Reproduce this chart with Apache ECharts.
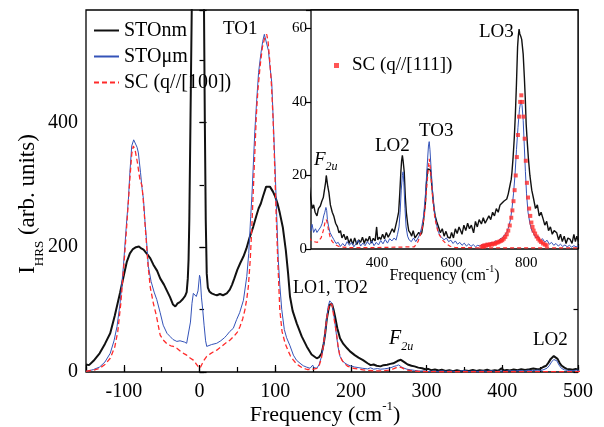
<!DOCTYPE html>
<html>
<head>
<meta charset="utf-8">
<script src="https://cdn.jsdelivr.net/npm/echarts@6/dist/echarts.min.js"></script>
<style>
  html, body { margin: 0; padding: 0; background: #fff; }
  #chart { width: 604px; height: 427px; }
</style>
</head>
<body>
<div id="chart"></div>
<script>
// Hyper-Rayleigh scattering spectra: [frequency (cm-1), intensity (arb. units)]
const stoNm = [
  [-150,12],[-146,11],[-140,18],[-132,30],[-125,45],[-118,62],[-112,90],[-105,127],[-100,155],[-96,177],
  [-92,190],[-88,197],[-84,200],[-80,201],[-77,198],[-74,196],[-70,190],[-65,182],[-61,172],[-56,162],
  [-52,150],[-47,140],[-43,130],[-39,120],[-35,108],[-32,105],[-29,110],[-26,112],[-22,117],[-19,122],
  [-17,128],[-15.5,150],[-14.5,180],[-13.5,244],[-12,400],[-10.3,580],[-8,800],[0,1200],[4,800],[5.9,580],
  [7,400],[8.2,244],[9.5,158],[11,135],[13,129],[16,126],[20,124],[23,123],[27,125],[31,123],
  [36,126],[40,132],[43,140],[46,150],[50,164],[54,175],[58,185],[62,198],[66,215],[71,233],
  [75,250],[78,262],[81,270],[84,282],[88,297],[90,300],[93,297],[97,289],[100,281],[103,270],
  [106,255],[110,232],[114,195],[117,158],[119.5,121],[123,98],[128.4,78],[135,57],[141.6,41],[148,28],
  [154.8,22],[158,24],[161.4,30],[164,45],[166,62],[168,84],[170,98],[172,108],[173.5,111],[175,109],
  [177,100],[179,89],[182,70],[185.6,54],[190,45],[195,38],[198.8,33],[205,27],[210,23],[216,19],
  [222,14],[226,11],[230,12],[234,10],[239,9],[243,11],[248,11.7],[252,13],[256,14],[259,16],
  [262,18],[264,20],[266,19.5],[268,17],[271,15.4],[275,12],[280,10],[284,9],[289,7],[294,6],
  [298,4.4],[302,5],[306,3],[311,4],[316,2.5],[320,3.5],[325,1.5],[330,2.8],[335,1.2],[340,3],
  [346,1.2],[351,2.5],[356,1.8],[361,3.2],[366,1.5],[370,2.8],[375,2.1],[380,3.5],[385,1.6],[390,2.9],
  [395,2.2],[399,6],[402,2.5],[406,3.2],[410,2.6],[415,4],[420,2.8],[425,4.5],[430,3.2],[436,4.4],
  [441,5.5],[446,4.5],[450,5],[454,8],[458,10],[461,15],[464,21],[466,24],[468,25.5],[470,24],
  [473,21],[476,14],[478.6,10],[482,7],[485,5],[489,4.4],[493,3.5],[497,5],[502,3],[507,3],
  [512,4.5],[516,3.8],[520,4.4],[524,7],[527,10],[529.5,12],[532,17],[535.7,21.8],[538,22],[540,22.3],
  [543,21.5],[545,20],[547,17.2],[550,14],[553,11],[556,9],[560,7.5],[565,6],[570,4.4],[575,5.5],
  [580,3.5],[585,4.8],[590,3.2],[596,3],[600,4.5],[605,3],[610,5.5],[615,4.2],[620,6],[623,5.3],
  [628,4],[633,6.5],[638,5],[643,7],[648,5.5],[653,6.5],[659,4.4],[664,7.5],[669,6],[674,8],
  [680,6.8],[685,8.5],[690,7],[695,7.2],[700,9],[705,8],[710,10],[715,9],[720,11],[725,10],
  [730,12],[735,11.5],[740,13],[744,13],[748,13.6],[752,15],[756,17],[760,19],[762,21],[765,25],
  [768,30],[771,36.5],[774,45],[777,55],[779,58],[781,59.8],[783,58.5],[786,57.7],[788,57],[790,57.2],
  [792,53],[795,47],[797.6,41],[800,34],[803,29],[806,24.6],[810,20],[815,16],[820,13.6],[825,11],
  [830,12],[835,9],[840,10],[846,8],[850,6.5],[855,7.5],[860,5],[865,6],[870,4],[875,5],
  [882,4.4],[887,2.5],[892,4],[897,2],[902,3.5],[907,1.5],[912,3],[918,2.6],[923,1.5],[928,4],
  [932,2],[936,3.5],[940,2]
];

const stoUm = [
  [-150,1],[-146,2],[-140,4],[-132,8],[-125,16],[-118,30],[-113,50],[-109,73],[-105,110],[-100.6,169],
  [-97,230],[-94,276],[-92,320],[-89.6,362],[-87,372],[-85,370],[-82.5,360],[-80.8,351],[-78,320],[-76,295],
  [-74,276],[-72,240],[-70,210],[-67.6,169],[-64,145],[-60,128],[-56.5,116],[-52,95],[-48,75],[-43,62],
  [-39,57],[-35,52],[-30,49],[-25.8,50],[-20,48],[-17,46],[-14.8,48],[-12,80],[-10,110],[-8.2,126],
  [-6,124],[-4.3,121],[-2,130],[0,155],[1,150],[2.5,120],[4.2,100],[6,75],[8,50],[9.5,41],
  [12,42],[16,44],[22.7,46],[28,50],[33,55],[36,59],[40,65],[44.6,70],[49,84],[53,95],
  [58,115],[62.4,153],[65,190],[67.6,249],[69.5,290],[71,330],[73,385],[75.6,437],[78,480],[81,510],
  [83.5,530],[85.6,541],[88,538],[91,515],[93,490],[95.4,464],[97.5,400],[99.7,330],[102,249],[104,180],
  [106,140],[108.6,100],[112,68],[115,55],[119.5,42],[124,27],[128,19],[132.8,14],[137,10],[141,8],
  [146,6],[148,8],[149.5,11],[151,7],[155,6],[158,12],[161,24],[163.5,41],[166,62],[168,85],
  [170,105],[172,114],[173.3,116],[175,110],[177,95],[179,78],[181,58],[183,40],[185.6,25],[190,16],
  [195,12],[198.8,10],[205,8],[215,6],[222,5],[226,6.7],[230,4.5],[235,5.5],[239,4.5],[244,5],
  [249,6],[253,7],[257,9],[260,10],[263,11.3],[265,10.5],[267,8],[270,6.2],[274,4.5],[279,3.5],
  [284,2.6],[290,1.5],[296,1.8],[302,0.7],[308,1.5],[314,0.8],[320,2],[326,1],[332,1.8],[338,0.6],
  [344,1.5],[350,2.4],[356,0.8],[362,1.6],[368,0.9],[374,2],[380,1.2],[386,2.2],[392,0.9],[398,1.8],
  [404,1.1],[410,2.3],[416,1.4],[422,2.6],[428,1.6],[434,2.8],[440,2.2],[446,3],[451,2.4],[455,4],
  [459,6],[462,10],[465,16],[468,20],[470,21],[472,18],[475,11],[478,6],[482,3.5],[486,2.5],
  [492,2],[498,3],[504,2],[510,3],[515,4],[520,6],[525,9],[530,15],[533,20],[536,25],
  [538,28],[540,29.2],[542,27],[545,22],[548,17],[551,13],[555,9],[560,6.5],[565,4.5],[570,3.5],
  [575,4],[580,2.5],[586,3],[592,2],[598,2.4],[604,1.5],[610,2.2],[616,1.3],[622,1.8],[628,1],
  [634,1.6],[640,0.8],[646,1.4],[652,0.7],[658,1.2],[664,0.6],[670,1],[676,0.8],[682,1.2],[688,1],
  [694,1.5],[700,1.3],[706,1.8],[712,1.6],[718,2.2],[724,2],[730,2.8],[736,3],[742,3.8],[748,4.5],
  [753,6],[758,8],[762,11],[766,15],[770,20],[774,27],[778,33],[782,38],[786,40.5],[789,39],
  [792,35],[795,28],[798,21],[801,15],[805,10],[810,7],[815,5],[820,4.2],[826,3],[832,3.5],
  [838,2.2],[844,2.8],[850,1.8],[856,2.4],[862,1.3],[868,1.8],[874,1],[880,1.5],[886,0.8],[892,1.3],
  [898,0.7],[904,1.1],[910,0.6],[916,1],[922,0.5],[928,0.9],[934,0.6],[940,0.8]
];

const sc100 = [
  [-150,1],[-146,2],[-140,3],[-132,6],[-125,12],[-118,22],[-112,40],[-108,65],[-104,110],[-100,170],
  [-97,220],[-95,255],[-92,310],[-89.5,350],[-87.5,362],[-85,355],[-82,335],[-79,310],[-76,298],[-74,270],
  [-71,220],[-68,170],[-65,135],[-61,110],[-57,90],[-52,59],[-47,50],[-43,45],[-38,42],[-34.6,41],
  [-30,38],[-25,33],[-20,29],[-17,27],[-12,22],[-8.2,19],[-5,14],[-2,9],[0.7,6],[3,12],
  [6,19],[9.5,25],[14,29],[18,32],[22.7,35],[28,40],[33,45],[40,51],[46,58],[50,64],
  [53.5,73],[57,85],[60,100],[62.5,118],[64.5,137],[67,180],[69,230],[71,290],[73,350],[75,410],
  [77,450],[80,490],[83,520],[86,535],[88.7,541],[90.5,530],[93,495],[95,460],[97,410],[99,340],
  [101,260],[103,190],[106,100],[109,65],[113,46],[117,34],[120,26],[124,19],[128,13],[132.8,9],
  [137,6],[142,4],[148,4],[152,5],[155,6],[158,10],[161,22],[163.5,41],[166,65],[168,85],
  [170,100],[172,110],[173.3,113],[175,108],[177,92],[179,75],[181,62],[183,42],[185,28],[188,19],
  [192,13],[196,9],[203,6],[210,4.5],[216,3.5],[222,2.5],[230,2],[240,1.8],[250,3],[256,5],
  [260,7],[264,8],[267,7],[270,5],[275,3],[280,2],[288,1.2],[300,0.6],[320,0.4],[360,0.4],
  [400,0.4],[450,0.5],[500,0.6],[510,2],[520,5],[527,9],[532,15],[536,20],[540,24.5],[543,22],
  [546,18],[550,13],[555,8.5],[560,6],[566,4],[575,2.5],[585,1.5],[595,0.8],[610,0.4],[700,0.3],
  [800,0.3],[940,0.3]
];

const sc111 = [
  [680,0.6],[684,0.8],[688,1.0],[692,0.9],[696,1.2],[700,1.1],[704,1.3],[708,1.2],[712,1.5],[716,1.4],
  [720,1.7],[724,1.8],[728,2.0],[732,2.2],[736,2.4],[740,2.8],[744,3.3],[748,4.0],[752,5.0],[756,6.4],
  [760,8.5],[763,10.5],[766,13],[769,16],[772,20],[775,25],[778,31],[781,36],[784,40],[787,41.8],
  [790,40],[793,36],[796,30],[799,24],[802,18],[805,14],[808,11],[811,9],[814,7.2],[817,6],
  [820,5],[824,4.2],[828,3.4],[832,2.8],[836,2.3],[840,1.9],[845,1.5],[850,1.2],[855,1.0]
];

// Axis ranges and tick labels
const mainX = { min: -150, max: 500 };
const mainY = { min: 0, max: 580 };
const insetX = { min: 223, max: 939 };
const insetY = { min: 0, max: 65 };
const mainXLabels = [-100, 0, 100, 200, 300, 400, 500];
const mainYLabels = [0, 200, 400];
const insetXLabels = [400, 600, 800];
const insetYLabels = [0, 20, 40, 60];

const FONT = '"Liberation Serif", "Times New Roman", serif';
const BLACK = '#111111';
const BLUE = '#3453b8';
const RED = '#ff2a2a';

const chart = echarts.init(document.getElementById('chart'), null, { renderer: 'canvas' });

function showOnly(list) {
  return v => (list.indexOf(Math.round(v)) >= 0 && Math.abs(v - Math.round(v)) < 1e-6) ? String(Math.round(v)) : '';
}

const tickStyle = { color: '#000', width: 1.2 };

chart.setOption({
  animation: false,
  backgroundColor: '#fff',
  grid: [
    { left: 86, right: 26, top: 10, bottom: 55, show: true, borderColor: '#000', borderWidth: 1.3,
      backgroundColor: 'transparent', containLabel: false, outerBoundsMode: 'none' },
    { left: 311, right: 26, top: 10, bottom: 178, show: true, borderColor: '#000', borderWidth: 1.3,
      backgroundColor: '#fff', z: 3, containLabel: false, outerBoundsMode: 'none' }
  ],
  legend: [
    {
      data: ['STOnm', 'STOμm', 'SC (q//[100])'],
      orient: 'vertical', left: 88, top: 15, itemWidth: 25, itemHeight: 14, itemGap: 5,
      selectedMode: false, itemStyle: { opacity: 0 },
      textStyle: { fontFamily: FONT, fontSize: 20, color: '#000', lineHeight: 21 }
    },
    {
      data: ['SC (q//[111])'],
      left: 329, top: 51, itemWidth: 5, itemHeight: 5, selectedMode: false,
      textStyle: { fontFamily: FONT, fontSize: 19, color: '#000', padding: [0, 0, 0, 8] }
    }
  ],
  xAxis: [
    { // main frequency axis, labelled ticks every 100
      type: 'value', gridIndex: 0, min: mainX.min, max: mainX.max, minInterval: 100, maxInterval: 100,
      position: 'bottom',
      name: '{t|Frequency (cm}{s|-1}{t|)}', nameLocation: 'middle', nameGap: 28, nameMoveOverlap: false,
      nameTextStyle: { padding: [0, 14, 0, 0], rich: {
        t: { fontFamily: FONT, fontSize: 22, color: '#000', lineHeight: 26, verticalAlign: 'bottom' },
        s: { fontFamily: FONT, fontSize: 13, color: '#000', lineHeight: 26, verticalAlign: 'top' }
      } },
      axisLine: { show: false }, splitLine: { show: false },
      axisTick: { inside: true, length: 7, lineStyle: tickStyle },
      axisLabel: { fontFamily: FONT, fontSize: 20, color: '#000', margin: 10, formatter: showOnly(mainXLabels) }
    },
    { // main minor ticks every 50
      type: 'value', gridIndex: 0, min: mainX.min, max: mainX.max, minInterval: 50, maxInterval: 50,
      position: 'bottom', axisLine: { show: false }, splitLine: { show: false },
      axisTick: { inside: true, length: 5, lineStyle: tickStyle }, axisLabel: { show: false }
    },
    { // inset frequency axis
      type: 'value', gridIndex: 1, min: insetX.min, max: insetX.max, minInterval: 100, maxInterval: 100,
      position: 'bottom',
      name: '{t|Frequency (cm}{s|-1}{t|)}', nameLocation: 'middle', nameGap: 15, nameMoveOverlap: false,
      nameTextStyle: { rich: {
        t: { fontFamily: FONT, fontSize: 16, color: '#000', lineHeight: 20, verticalAlign: 'bottom' },
        s: { fontFamily: FONT, fontSize: 10, color: '#000', lineHeight: 20, verticalAlign: 'top' }
      } },
      axisLine: { show: false }, splitLine: { show: false },
      axisTick: { inside: true, length: 5, lineStyle: tickStyle },
      axisLabel: { fontFamily: FONT, fontSize: 15, color: '#000', margin: 7, formatter: showOnly(insetXLabels) }
    }
  ],
  yAxis: [
    { // main intensity axis, labelled ticks every 200
      type: 'value', gridIndex: 0, min: mainY.min, max: mainY.max, interval: 200, position: 'left',
      name: '{t|I}{s|HRS}{t| (arb. units)}', nameLocation: 'middle', nameGap: 40, nameRotate: 90,
      nameMoveOverlap: false,
      nameTextStyle: { padding: [0, 26, 0, 0], rich: {
        t: { fontFamily: FONT, fontSize: 23, color: '#000', lineHeight: 30, verticalAlign: 'top' },
        s: { fontFamily: FONT, fontSize: 13, color: '#000', lineHeight: 30, verticalAlign: 'bottom' }
      } },
      axisLine: { show: false }, splitLine: { show: false },
      axisTick: { inside: true, length: 7, lineStyle: tickStyle },
      axisLabel: { fontFamily: FONT, fontSize: 20, color: '#000', margin: 8, formatter: showOnly(mainYLabels) }
    },
    { // main minor ticks every 100
      type: 'value', gridIndex: 0, min: mainY.min, max: mainY.max, interval: 100, position: 'left',
      axisLine: { show: false }, splitLine: { show: false },
      axisTick: { inside: true, length: 4.5, lineStyle: tickStyle }, axisLabel: { show: false }
    },
    { // mirrored ticks on the right edge
      type: 'value', gridIndex: 0, min: mainY.min, max: mainY.max, interval: 100, position: 'right',
      axisLine: { show: false }, splitLine: { show: false },
      axisTick: { inside: true, length: 4.5, lineStyle: tickStyle }, axisLabel: { show: false }
    },
    { // inset intensity axis
      type: 'value', gridIndex: 1, min: insetY.min, max: insetY.max, interval: 20, position: 'left',
      axisLine: { show: false }, splitLine: { show: false },
      axisTick: { inside: false, length: 5, lineStyle: tickStyle },
      axisLabel: { fontFamily: FONT, fontSize: 15, color: '#000', margin: 4, formatter: showOnly(insetYLabels) }
    }
  ],
  series: [
    { name: 'STOnm', type: 'line', xAxisIndex: 0, yAxisIndex: 0, data: stoNm, symbol: 'none', clip: true,
      lineStyle: { color: BLACK, width: 2 }, itemStyle: { color: BLACK }, z: 2 },
    { name: 'STOμm', type: 'line', xAxisIndex: 0, yAxisIndex: 0, data: stoUm, symbol: 'none', clip: true,
      lineStyle: { color: BLUE, width: 1 }, itemStyle: { color: BLUE }, z: 3 },
    { name: 'SC (q//[100])', type: 'line', xAxisIndex: 0, yAxisIndex: 0, data: sc100, symbol: 'none', clip: true,
      lineStyle: { color: RED, width: 1.3, type: [5, 3] }, itemStyle: { color: RED }, z: 4 },

    { name: 'STOnm', type: 'line', xAxisIndex: 2, yAxisIndex: 3, data: stoNm, symbol: 'none', clip: true,
      lineStyle: { color: BLACK, width: 1.4 }, itemStyle: { color: BLACK }, z: 5 },
    { name: 'STOμm', type: 'line', xAxisIndex: 2, yAxisIndex: 3, data: stoUm, symbol: 'none', clip: true,
      lineStyle: { color: BLUE, width: 1 }, itemStyle: { color: BLUE }, z: 6 },
    { name: 'SC (q//[100])', type: 'line', xAxisIndex: 2, yAxisIndex: 3, data: sc100, symbol: 'none', clip: true,
      lineStyle: { color: RED, width: 1.2, type: [4, 3] }, itemStyle: { color: RED }, z: 7 },
    { name: 'SC (q//[111])', type: 'scatter', xAxisIndex: 2, yAxisIndex: 3, data: sc111, symbol: 'rect', symbolSize: 4,
      itemStyle: { color: RED }, z: 8 }
  ],
  graphic: [
    { type: 'text', left: 223, top: 20, z: 100, style: { text: 'TO1', font: '19px ' + FONT, fill: '#000' } },
    { type: 'text', left: 293, top: 279, z: 100, style: { text: 'LO1, TO2', font: '18px ' + FONT, fill: '#000' } },
    { type: 'text', left: 389, top: 329, z: 100, style: {
        text: '{f|F}{s|2u}', rich: {
          f: { fontFamily: FONT, fontStyle: 'italic', fontSize: 20, fill: '#000', lineHeight: 24, verticalAlign: 'top' },
          s: { fontFamily: FONT, fontStyle: 'italic', fontSize: 12, fill: '#000', lineHeight: 24, verticalAlign: 'bottom' }
        } } },
    { type: 'text', left: 533, top: 331, z: 100, style: { text: 'LO2', font: '19px ' + FONT, fill: '#000' } },
    { type: 'text', left: 314, top: 150, z: 100, style: {
        text: '{f|F}{s|2u}', rich: {
          f: { fontFamily: FONT, fontStyle: 'italic', fontSize: 19, fill: '#000', lineHeight: 23, verticalAlign: 'top' },
          s: { fontFamily: FONT, fontStyle: 'italic', fontSize: 12, fill: '#000', lineHeight: 23, verticalAlign: 'bottom' }
        } } },
    { type: 'text', left: 375, top: 137, z: 100, style: { text: 'LO2', font: '19px ' + FONT, fill: '#000' } },
    { type: 'text', left: 419, top: 122, z: 100, style: { text: 'TO3', font: '19px ' + FONT, fill: '#000' } },
    { type: 'text', left: 479, top: 23, z: 100, style: { text: 'LO3', font: '19px ' + FONT, fill: '#000' } }
  ]
});
</script>
</body>
</html>
